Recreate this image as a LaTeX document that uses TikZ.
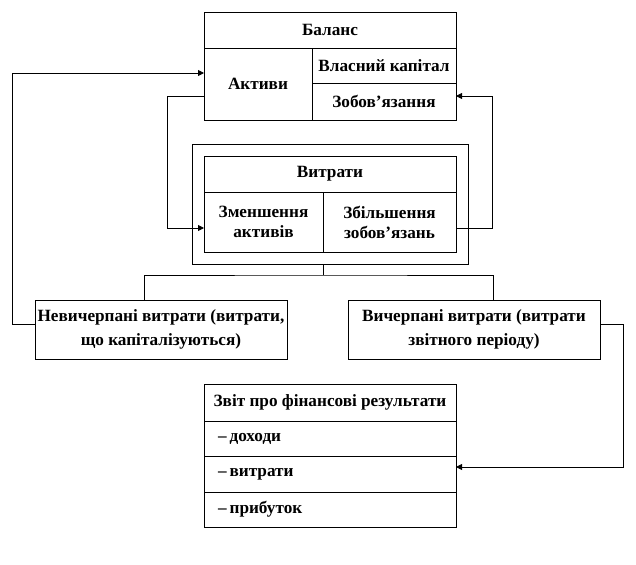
\documentclass[tikz,border=0pt]{standalone}
\usepackage{fontspec}
\setmainfont{Liberation Serif}
\usetikzlibrary{arrows.meta}
\begin{document}
\begin{tikzpicture}[x=1pt,y=-1pt,
  cell/.style={draw, line width=0.9pt, outer sep=0pt, inner sep=2pt,
    font=\fontsize{17.2}{20}\selectfont\bfseries, align=center},
  lcell/.style={cell, text width=#1, align=left},
  wire/.style={line width=0.9pt},
  arr/.style={wire, -{Triangle[length=6pt,width=6pt]}}]
\useasboundingbox (0,0) rectangle (636,564);
% Balance
\node[cell, minimum width=252, minimum height=36] (bal) at (330,30) {Баланс};
\node[cell, minimum width=108, minimum height=72] (akt) at (258,84) {Активи};
\node[cell, minimum width=144, minimum height=35] (vk) at (384,65.5) {Власний капітал};
\node[cell, minimum width=144, minimum height=37] (zob) at (384,101.5) {Зобов’язання};
% Expenses
\node[draw, line width=0.9pt, outer sep=0pt, minimum width=276, minimum height=120] (outer) at (330,204) {};
\node[cell, minimum width=252, minimum height=36] (vyt) at (330,174) {Витрати};
\node[cell, minimum width=119, minimum height=60] (zm) at (263.5,222) {Зменшення\\активів};
\node[cell, minimum width=133, minimum height=60] (zb) at (389.5,222) {Збільшення\\зобов’язань};
% lower boxes
\node[cell, minimum width=252, minimum height=59, font=\fontsize{17.2}{24}\selectfont\bfseries] (nev) at (161,329.5) {Невичерпані витрати (витрати,\\що капіталізуються)};
\node[cell, minimum width=252, minimum height=59, font=\fontsize{17.2}{24}\selectfont\bfseries] (vych) at (474,329.5) {Вичерпані витрати (витрати\\звітного періоду)};
% report
\node[cell, minimum width=252, minimum height=37] (zvit) at (330,402.5) {Звіт про фінансові результати};
\node[lcell=240pt, minimum width=252, minimum height=35] (doh) at (330,438.5) {\hspace{8pt}–\hspace{3pt}доходи};
\node[lcell=240pt, minimum width=252, minimum height=36] (vytr) at (330,474) {\hspace{8pt}–\hspace{3pt}витрати};
\node[lcell=240pt, minimum width=252, minimum height=35] (prib) at (330,509.5) {\hspace{8pt}–\hspace{3pt}прибуток};
% connectors
\draw[arr] ([yshift=5.5pt]nev.west) -- ++(-23,0) |- ([yshift=11pt]akt.west);
\draw[arr] ([yshift=-12pt]akt.west) -- ++(-37,0) |- ([yshift=-6pt]zm.west);
\draw[arr] ([yshift=-6pt]zb.east) -- ++(36,0) |- ([yshift=5.5pt]zob.east);
\draw[wire] (outer.south -| zm.south east) -- ++(0,11) coordinate (j);
\draw[wire] ([xshift=-17pt]nev.north) |- (j) -| ([xshift=19pt]vych.north);
\draw[arr] ([yshift=5.5pt]vych.east) -- ++(23,0) |- ([yshift=7pt]vytr.east);
\end{tikzpicture}
\end{document}
